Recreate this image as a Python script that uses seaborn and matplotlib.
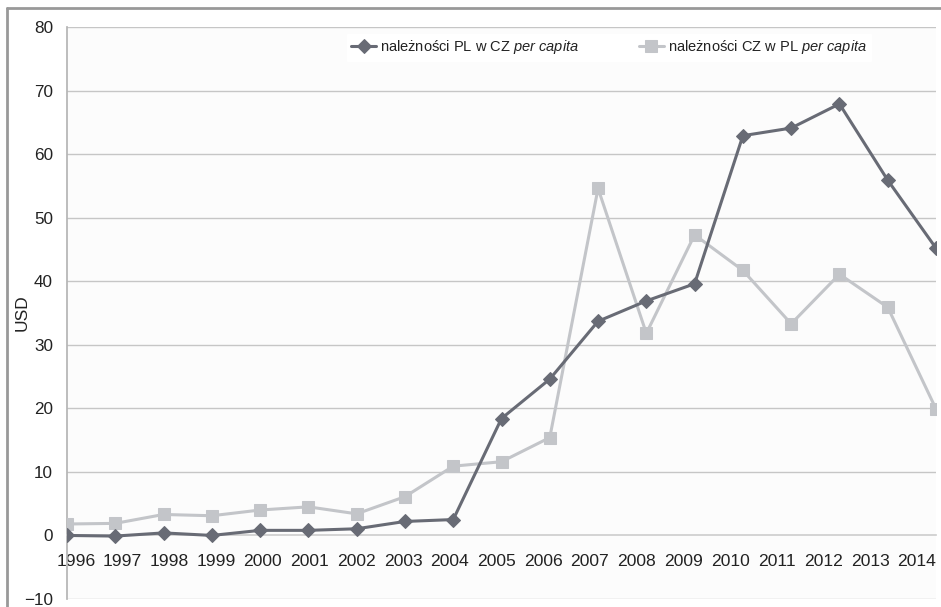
import pandas as pd
import matplotlib
matplotlib.use('Agg')
import matplotlib.pyplot as plt
from matplotlib.lines import Line2D
import seaborn as sns

years = list(range(1996, 2015))
pl_w_cz = [0.0, -0.1, 0.4, 0.0, 0.8, 0.8, 1.05, 2.2, 2.5, 18.4, 24.6, 33.7,
           36.9, 39.6, 62.9, 64.1, 67.9, 55.9, 45.2]
cz_w_pl = [1.8, 1.9, 3.3, 3.1, 4.0, 4.5, 3.4, 6.1, 10.9, 11.6, 15.4, 54.6,
           31.8, 47.3, 41.7, 33.3, 41.1, 35.9, 19.9]
labels = [r'należności PL w CZ $\mathit{per\ capita}$',
          r'należności CZ w PL $\mathit{per\ capita}$']
y_ticks = list(range(-10, 81, 10))

sns.set_theme(style='white')
plt.rcParams['font.family'] = ['Liberation Sans', 'DejaVu Sans']
plt.rcParams['mathtext.fontset'] = 'custom'
plt.rcParams['mathtext.it'] = 'Liberation Sans:italic'
plt.rcParams['mathtext.rm'] = 'Liberation Sans'

df = pd.DataFrame({'rok': years, 'pl': pl_w_cz, 'cz': cz_w_pl})

fig = plt.figure(figsize=(9.41, 6.07), dpi=100)
ax = fig.add_axes([67 / 941, 1 - 599 / 607, (936 - 67) / 941, (599 - 27) / 607])
ax.set_facecolor('#fcfcfc')

dark = '#686b75'
light = '#c3c5c9'
sns.lineplot(data=df, x='rok', y='pl', ax=ax, color=dark, marker='D', markersize=7,
             markeredgecolor=dark, linewidth=2.2, label=labels[0], zorder=4)
sns.lineplot(data=df, x='rok', y='cz', ax=ax, color=light, marker='s', markersize=9,
             markeredgecolor=light, linewidth=2.2, label=labels[1], zorder=3)

ax.set_xlim(1996, 2014)
ax.set_ylim(-10, 80)
ax.set_yticks(y_ticks)

# ticks na latach, etykiety rozłożone równo jak w Excelu (lekko przesunięte)
ax.set_xticks(years)
ax.set_xticklabels([''] * len(years))
label_pos = [1996.186 + i * 0.9677 for i in range(len(years))]
ax.set_xticks(label_pos, minor=True)
ax.set_xticklabels([str(y) for y in years], minor=True)

ax.tick_params(axis='y', labelsize=12.3, colors='#222222', length=0, pad=10)
ax.tick_params(axis='x', which='both', labelsize=12.6, colors='#222222')
ax.tick_params(axis='x', which='major', direction='out', length=5, color='#bbbbbb')
ax.tick_params(axis='x', which='minor', length=0, pad=13)
for y in y_ticks:
    if y != 0:
        ax.axhline(y, color='#c6c6c6', linewidth=1, zorder=1)

ax.spines['bottom'].set_position(('data', 0))
ax.spines['bottom'].set_color('#cccccc')
ax.spines['bottom'].set_linewidth(1.2)
ax.spines['left'].set_color('#b5b5b5')
ax.spines['top'].set_visible(False)
ax.spines['right'].set_visible(False)

ax.set_xlabel('')
ax.set_ylabel('USD', fontsize=12.5, color='#222222', labelpad=-4)

leg = ax.legend(loc='upper left', bbox_to_anchor=(347 / 941, 1 - 34 / 607),
                bbox_transform=fig.transFigure, borderaxespad=0, ncol=2, fontsize=10.5,
                frameon=True, facecolor='white', edgecolor='white', framealpha=1,
                handlelength=1.7, handletextpad=0.28, columnspacing=4.1,
                borderpad=0.3, fancybox=False)
for t in leg.get_texts():
    t.set_color('#222222')

fig.add_artist(Line2D([7 / 941, 7 / 941], [0, 1 - 8 / 607], color='#999999', linewidth=2))
fig.add_artist(Line2D([7 / 941, 1], [1 - 8 / 607, 1 - 8 / 607], color='#999999', linewidth=2))

fig.savefig('out.png', dpi=100)
